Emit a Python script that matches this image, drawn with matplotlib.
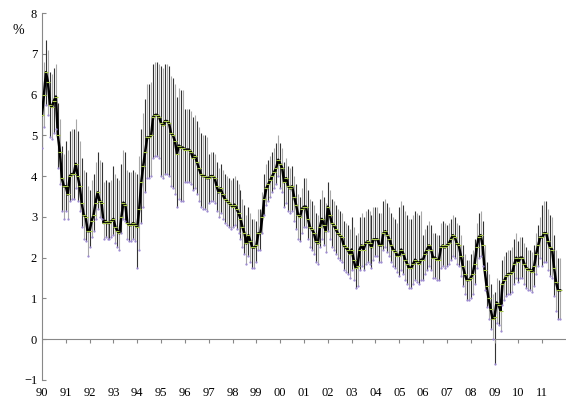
import matplotlib.pyplot as plt
import numpy as np

plt.rcParams['font.family'] = ['Liberation Serif', 'DejaVu Serif']

# monthly central values, Jan 1990 .. Oct 2011
mid = [
    5.5, 6.0, 6.55, 6.3, 5.75, 5.7, 5.85, 5.95, 5.0, 4.6, 3.95, 3.75,
    3.75, 3.55, 4.0, 4.05, 4.05, 4.3, 4.0, 3.75, 3.35, 3.05, 3.0, 2.65,
    2.65, 2.9, 3.05, 3.35, 3.6, 3.4, 3.35, 2.85, 2.9, 2.85, 2.85, 2.9,
    2.95, 2.75, 2.65, 2.6, 3.0, 3.35, 3.3, 2.85, 2.8, 2.8, 2.85, 2.8,
    2.75, 3.2, 3.85, 4.25, 4.6, 4.95, 4.95, 5.0, 5.45, 5.5, 5.5, 5.45,
    5.3, 5.25, 5.35, 5.35, 5.3, 5.05, 5.0, 4.85, 4.55, 4.75, 4.7, 4.7,
    4.65, 4.65, 4.65, 4.6, 4.45, 4.5, 4.35, 4.2, 4.05, 4.0, 4.0, 3.95,
    3.95, 4.0, 4.0, 3.95, 3.75, 3.6, 3.7, 3.55, 3.45, 3.4, 3.35, 3.3,
    3.25, 3.3, 3.2, 3.1, 2.95, 2.75, 2.6, 2.35, 2.55, 2.4, 2.25, 2.25,
    2.3, 2.6, 2.6, 3.0, 3.45, 3.7, 3.8, 3.9, 4.0, 4.1, 4.2, 4.4,
    4.3, 4.2, 3.85, 3.95, 3.75, 3.7, 3.75, 3.5, 3.3, 3.05, 3.0, 3.2,
    3.25, 3.25, 2.95, 2.75, 2.7, 2.6, 2.4, 2.35, 2.75, 2.95, 2.8, 2.65,
    3.25, 3.05, 2.85, 2.8, 2.7, 2.6, 2.55, 2.5, 2.3, 2.25, 2.2, 2.1,
    2.2, 1.95, 1.75, 1.8, 2.2, 2.3, 2.2, 2.35, 2.4, 2.35, 2.25, 2.45,
    2.45, 2.45, 2.3, 2.3, 2.6, 2.65, 2.55, 2.45, 2.3, 2.2, 2.15, 2.05,
    2.05, 2.2, 2.1, 1.95, 1.85, 1.75, 1.75, 1.85, 1.95, 1.9, 1.85, 1.95,
    1.95, 2.1, 2.2, 2.3, 2.2, 2.0, 2.0, 1.95, 1.95, 2.25, 2.3, 2.25,
    2.3, 2.35, 2.45, 2.55, 2.5, 2.35, 2.3, 2.05, 1.8, 1.6, 1.45, 1.45,
    1.5, 1.6, 1.85, 2.25, 2.5, 2.55, 2.3, 1.7, 1.3, 1.0, 0.75, 0.5,
    0.55, 0.9, 0.85, 0.7, 1.35, 1.45, 1.55, 1.6, 1.6, 1.65, 1.85, 2.0,
    1.9, 2.0, 2.0, 1.85, 1.75, 1.7, 1.7, 1.65, 1.8, 2.1, 2.3, 2.5,
    2.5, 2.6, 2.6, 2.4, 2.25, 2.2, 1.75, 1.4, 1.2, 1.2,
]
# spread above / below the central value, one per year 1990..2011
up_year = [0.8, 1.1, 1.0, 1.3, 1.3, 1.4, 1.0, 0.6, 0.7, 0.6, 0.5,
           0.7, 0.6, 0.8, 0.8, 1.2, 0.6, 0.5, 0.6, 0.6, 0.5, 0.8]
down_year = [0.8, 0.6, 0.4, 0.4, 1.0, 1.3, 0.8, 0.6, 0.5, 0.4, 0.6,
             0.5, 0.6, 0.5, 0.4, 0.5, 0.5, 0.5, 0.5, 0.5, 0.5, 0.7]
year_labels = ['90', '91', '92', '93', '94', '95', '96', '97', '98', '99', '00',
               '01', '02', '03', '04', '05', '06', '07', '08', '09', '10', '11']

mid = np.array(mid)
n = len(mid)
x = 1990 + np.arange(n) / 12
yi = np.arange(n) // 12
hi = mid + np.array(up_year)[yi]
lo = mid - np.array(down_year)[yi]
lo[228] = -0.6

fig = plt.figure(figsize=(5.68, 4.01), dpi=100)
ax = fig.add_axes([42 / 568, 21 / 401, 524 / 568, 367 / 401])
for i in range(n):
    c = '#333333' if i % 2 == 0 else '#a8a8a8'
    ax.vlines(x[i], lo[i], hi[i], color=c, lw=0.8)
ax.plot(x, mid, color='black', lw=1.8, zorder=3)
ax.plot(x, mid, ls='none', marker='_', ms=2.5, mew=0.8, color='#a8c84a', zorder=4)
ax.plot(x, lo, ls='none', marker='.', ms=1.2, color='#9a86d0', zorder=4)

ax.set_xlim(1990, 2012)
ax.set_ylim(-1, 8)
ax.set_yticks(range(-1, 9))
ax.tick_params(axis='y', direction='in', length=3, labelsize=9, color='#888888')
ax.set_xticks([])
for s in ['top', 'right', 'bottom']:
    ax.spines[s].set_visible(False)
ax.spines['left'].set_color('#888888')
ax.axhline(0, color='#888888', lw=0.8)
trans = ax.get_xaxis_transform()
for k, lab in enumerate(year_labels):
    ax.vlines(1990 + k, -0.1, 0, color='#888888', lw=0.8)
    ax.text(1990 + k, -0.035, lab, transform=trans, ha='center', va='center', fontsize=9)
fig.text(18 / 568, 1 - 30 / 401, '%', ha='center', va='center', fontsize=10)

fig.savefig('out.png', dpi=100)
